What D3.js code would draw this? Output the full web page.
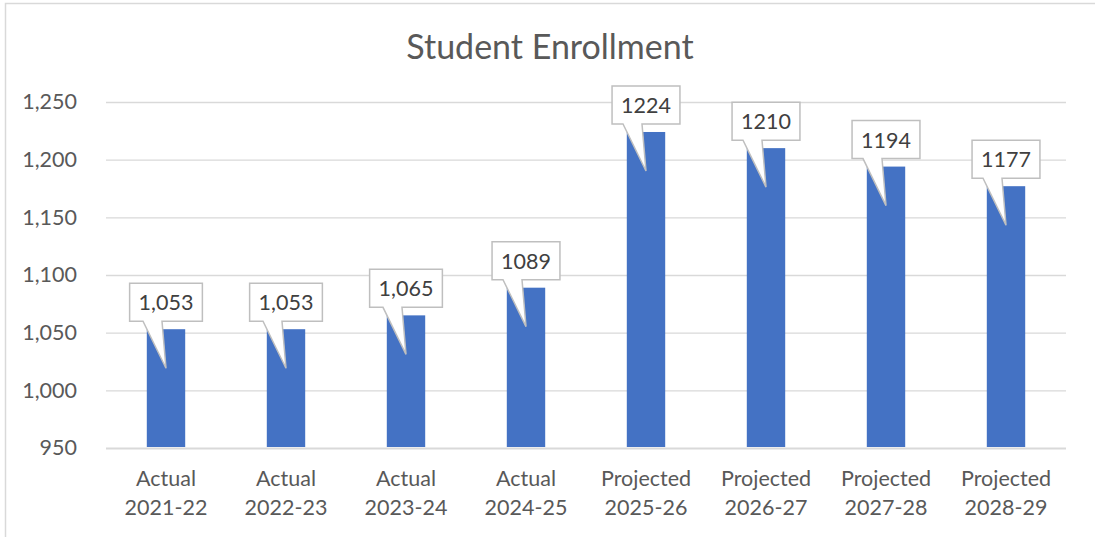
<!DOCTYPE html>
<html>
<head>
<meta charset="utf-8">
<script src="https://cdn.jsdelivr.net/npm/d3@7"></script>
<style>
  body { margin: 0; background: #fff; }
  svg { display: block; font-family: Lato, "Open Sans", sans-serif; }
</style>
</head>
<body>
<div class="chart"></div>
<script>
// data
var categories = [
  ["Actual", "2021-22"],
  ["Actual", "2022-23"],
  ["Actual", "2023-24"],
  ["Actual", "2024-25"],
  ["Projected", "2025-26"],
  ["Projected", "2026-27"],
  ["Projected", "2027-28"],
  ["Projected", "2028-29"]
];
var enrollment = [1053, 1053, 1065, 1089, 1224, 1210, 1194, 1177];
var valueLabels = ["1,053", "1,053", "1,065", "1089", "1224", "1210", "1194", "1177"];
var yTicks = [950, 1000, 1050, 1100, 1150, 1200, 1250];

var W = 1095, H = 537;
var plot = {left: 106, right: 1066, top: 102, bottom: 448};

var svg = d3.select(".chart").append("svg")
    .attr("width", W)
    .attr("height", H);

svg.append("rect")
    .attr("x", 5.5).attr("y", 3.5)
    .attr("width", W + 10).attr("height", H + 10)
    .attr("fill", "#fff")
    .attr("stroke", "#d9d9d9")
    .attr("stroke-width", 1.5);

var keys = categories.map(function (d) { return d.join(" "); });

var x = d3.scaleBand()
    .domain(keys)
    .range([plot.left, plot.right])
    .paddingInner(0.68)
    .paddingOuter(0.34);

var y = d3.scaleLinear()
    .domain([950, 1250])
    .range([plot.bottom, plot.top]);

// title
svg.append("text")
    .attr("x", 550)
    .attr("y", 59)
    .attr("text-anchor", "middle")
    .attr("fill", "#595959")
    .style("font-size", "34px")
    .text("Student Enrollment");

// gridlines + y labels
var yAxis = d3.axisLeft(y)
    .tickValues(yTicks)
    .tickSize(-(plot.right - plot.left))
    .tickPadding(29)
    .tickFormat(d3.format(","));

var gy = svg.append("g")
    .attr("transform", "translate(" + plot.left + ",0)")
    .call(yAxis);
gy.select(".domain").remove();
gy.selectAll(".tick line")
    .attr("stroke", "#d9d9d9")
    .attr("stroke-width", function (d) { return d === 950 ? 2 : 1.3; });
gy.selectAll(".tick text")
    .attr("fill", "#595959")
    .style("font-size", "21.5px")
    .style("font-family", "Lato, sans-serif");

// bars
svg.selectAll(".bar")
    .data(enrollment)
    .enter().append("rect")
    .attr("class", "bar")
    .attr("x", function (d, i) { return x(keys[i]); })
    .attr("y", function (d) { return y(d); })
    .attr("width", x.bandwidth())
    .attr("height", function (d) { return y(950) - y(d) - 1; })
    .attr("fill", "#4472c4");

// x labels, two lines each
var xl = svg.selectAll(".xlabel")
    .data(categories)
    .enter().append("text")
    .attr("class", "xlabel")
    .attr("text-anchor", "middle")
    .attr("fill", "#595959")
    .style("font-size", "21.5px");
xl.append("tspan")
    .attr("x", function (d, i) { return x(keys[i]) + x.bandwidth() / 2; })
    .attr("y", 486)
    .text(function (d) { return d[0]; });
xl.append("tspan")
    .attr("x", function (d, i) { return x(keys[i]) + x.bandwidth() / 2; })
    .attr("y", 515)
    .text(function (d) { return d[1]; });

// callout data labels
var callouts = svg.selectAll(".callout")
    .data(enrollment)
    .enter().append("g")
    .attr("class", "callout");

callouts.each(function (d, i) {
  var g = d3.select(this);
  var cx = x(keys[i]) + x.bandwidth() / 2;
  var top = y(d);
  var t = g.append("text")
      .attr("x", cx)
      .attr("text-anchor", "middle")
      .attr("fill", "#404040")
      .style("font-size", "21.5px")
      .text(valueLabels[i]);
  var w = t.node().getComputedTextLength() + 18;
  var bx0 = cx - w / 2, bx1 = cx + w / 2;
  var by1 = top - 8, by0 = by1 - 38;
  var p = d3.path();
  p.moveTo(bx0, by0);
  p.lineTo(bx1, by0);
  p.lineTo(bx1, by1);
  p.lineTo(cx - 4, by1);
  p.lineTo(cx, top + 39);
  p.lineTo(cx - 23, by1);
  p.lineTo(bx0, by1);
  p.closePath();
  g.insert("path", "text")
      .attr("d", p.toString())
      .attr("fill", "#fff")
      .attr("stroke", "#bfbfbf")
      .attr("stroke-width", 1.5);
  t.attr("y", by0 + 27);
});
</script>
</body>
</html>
